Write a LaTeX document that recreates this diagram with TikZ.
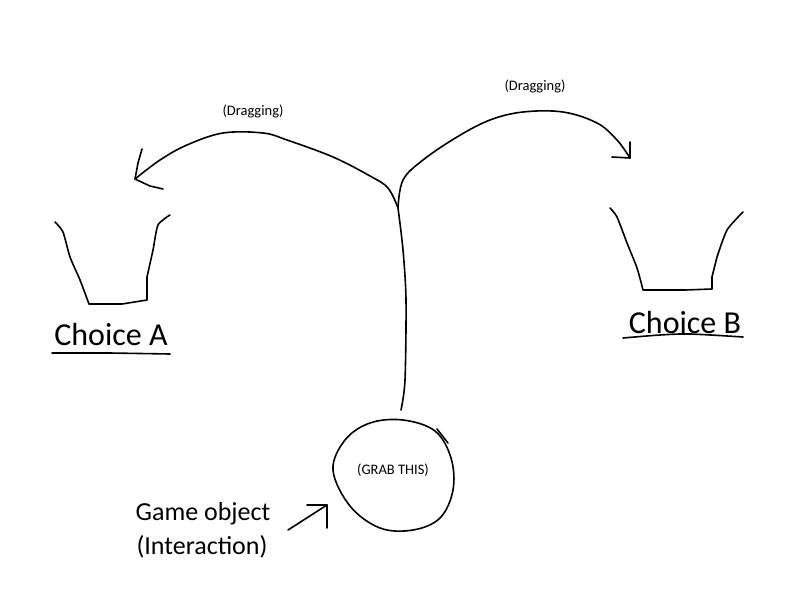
\documentclass[tikz,border=0pt]{standalone}
\usepackage{fontspec}
\setmainfont{Carlito}
\begin{document}
\begin{tikzpicture}[x=1pt,y=-1pt,
  ink/.style={line width=1.6pt,line join=round,line cap=round,black},
  bigtxt/.style={font=\fontsize{32}{36}\selectfont,inner sep=0pt},
  midtxt/.style={font=\fontsize{26}{32}\selectfont,inner sep=0pt,align=center},
  smalltxt/.style={font=\fontsize{14.5}{17}\selectfont,inner sep=0pt}]
\useasboundingbox[fill=white] (0,0) rectangle (800,600);
% junction and arrow tips
\coordinate (j) at (398,208);
\coordinate (tipA) at (135,179);
\coordinate (tipB) at (630,158);
\coordinate (stemEnd) at (401,410);
% left drag arrow
\draw[ink] plot[smooth,tension=0.6] coordinates {(j) (388,188) (370,176) (333,157) (287,140) (263,133) (223,133) (187,145) (160,160) (tipA)};
\draw[ink] (142,149) -- (138,163) -- (tipA) -- (150,186) -- (163,189);
% right drag arrow
\draw[ink] plot[smooth,tension=0.6] coordinates {(j) (403,180) (423,160) (457,137) (490,120) (523,112) (563,112) (597,123) (617,140) (tipB)};
\draw[ink] (630,142) -- (tipB) -- (612,157);
% stem
\draw[ink] plot[smooth,tension=0.5] coordinates {(j) (403,250) (406,300) (405,380) (stemEnd)};
% circle
\draw[ink] plot[smooth cycle,tension=0.6] coordinates {(333,470) (345,440) (370,423) (403,420) (435,431) (451,458) (453,490) (440,518) (413,530) (380,528) (350,506)};
\draw[ink] (437,429) -- (448,443);
% small pointer arrow
\coordinate (ptStart) at (288,530);
\coordinate (ptTip) at (327,505);
\draw[ink] (ptStart) -- (ptTip);
\draw[ink] (307,505) -- (ptTip) -- (327,528);
% left cup
\draw[ink] plot[smooth,tension=0.4] coordinates {(55,222) (63,232) (70,257) (80,280) (89,304)} -- (122,304) -- (147,300) -- plot[smooth,tension=0.4] coordinates {(147,277) (153,250) (158,225) (170,215)};
\draw[ink] (52,353) -- (110,353) -- (170,354);
% right cup
\draw[ink] plot[smooth,tension=0.4] coordinates {(610,208) (617,217) (627,243) (637,268) (643,290)} -- (685,290) -- (712,289) -- (712,277) -- plot[smooth,tension=0.4] coordinates {(717,257) (727,230) (743,212)};
\draw[ink] plot[smooth,tension=0.5] coordinates {(623,338) (660,335) (690,334) (743,337)};
% texts
\node[bigtxt] (cA) at (111,334) {Choice A};
\node[bigtxt] (cB) at (685,322) {Choice B};
\node[smalltxt] (dA) at (253,111) {(Dragging)};
\node[smalltxt] (dB) at (535,86) {(Dragging)};
\node[smalltxt] (grab) at (393,470) {(GRAB THIS)};
\node[midtxt] (go) at (203,514) {Game object};
\node[midtxt] (gi) at (202,547) {(Interaction)};
\end{tikzpicture}
\end{document}
